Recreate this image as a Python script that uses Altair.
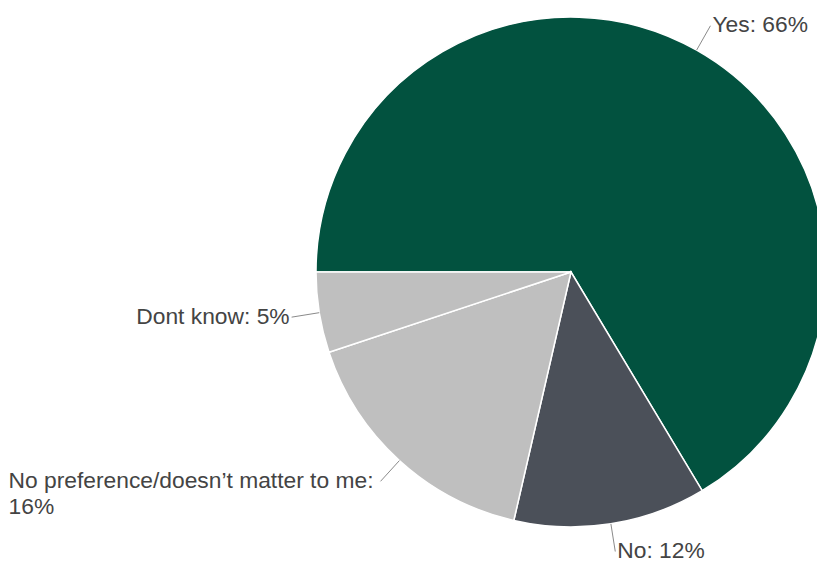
import altair as alt
import pandas as pd

categories = ["Yes", "No", "No preference/doesn’t matter to me", "Dont know"]
values = [66.4, 12.2, 16.3, 5.1]
pct_labels = ["66%", "12%", "16%", "5%"]
colors = ["#02523F", "#4B5059", "#BFBFBF", "#BFBFBF"]
label_sep = [" ", " ", "\n", " "]

df = pd.DataFrame({
    "category": categories,
    "value": values,
    "order": list(range(len(categories))),
    "label": [f"{c}:{s}{p}" for c, s, p in zip(categories, label_sep, pct_labels)],
})

CX, CY, R, R2 = 563, 264, 255, 283
START = 4.71238898  # 3*pi/2 (9 o'clock)
TWO_PI = 6.28318531

base = alt.Chart(df)

arcs = base.mark_arc(radius=R, stroke="white", strokeWidth=1.5).encode(
    theta=alt.Theta("value:Q", stack=True,
                    scale=alt.Scale(range=[START, START + TWO_PI])),
    color=alt.Color("category:N", legend=None,
                    scale=alt.Scale(domain=categories, range=colors)),
    order=alt.Order("order:Q"),
    x=alt.value(CX),
    y=alt.value(CY),
)

geo = base.transform_joinaggregate(
    total="sum(value)"
).transform_window(
    cum="sum(value)", sort=[alt.SortField("order")], frame=[None, 0]
).transform_calculate(
    mid=f"(datum.cum - datum.value/2)/datum.total*{TWO_PI} + {START}"
).transform_calculate(
    sx=f"{CX} + {R}*sin(datum.mid)",
    sy=f"{CY} - {R}*cos(datum.mid)",
    ex=f"{CX} + {R2}*sin(datum.mid)",
    ey=f"{CY} - {R2}*cos(datum.mid)",
    side="sin(datum.mid) >= 0 ? 'right' : 'left'",
    multi="indexof(datum.label, '\\n') >= 0",
)

leaders = geo.mark_rule(color="#8a8a8a", strokeWidth=1).encode(
    x=alt.X("sx:Q", scale=None, axis=None),
    y=alt.Y("sy:Q", scale=None, axis=None),
    x2="ex:Q",
    y2="ey:Q",
)

text_style = dict(font="Liberation Sans", fontSize=22.8, color="#444444",
                  baseline="middle", lineBreak="\n", lineHeight=26)

txt_right = geo.transform_filter("datum.side == 'right'").mark_text(
    align="left", dx=2, dy=-1, **text_style
).encode(x=alt.X("ex:Q", scale=None, axis=None),
         y=alt.Y("ey:Q", scale=None, axis=None), text="label:N")

txt_left = geo.transform_filter("datum.side == 'left' && !datum.multi").mark_text(
    align="right", dx=-2, **text_style
).encode(x=alt.X("ex:Q", scale=None, axis=None),
         y=alt.Y("ey:Q", scale=None, axis=None), text="label:N")

txt_multi = geo.transform_filter("datum.side == 'left' && datum.multi").mark_text(
    align="left", dx=-372, dy=0, **text_style
).encode(x=alt.X("ex:Q", scale=None, axis=None),
         y=alt.Y("ey:Q", scale=None, axis=None), text="label:N")

chart = alt.layer(arcs, leaders, txt_right, txt_left, txt_multi).properties(
    width=809, height=554, padding=0,
    autosize=alt.AutoSizeParams(type="none"),
).configure_view(stroke=None)

chart.save("out.html", embed_options={"renderer": "svg", "actions": False})
